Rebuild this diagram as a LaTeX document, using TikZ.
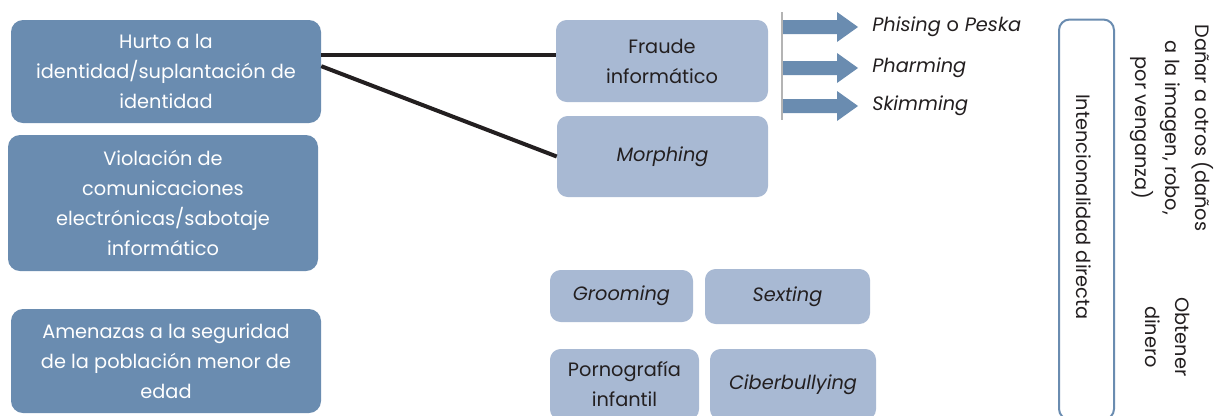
\documentclass[tikz,border=0pt]{standalone}
\usepackage{fontspec}
\setmainfont{Poppins}
\definecolor{dkblue}{HTML}{6A8CB0}
\definecolor{ltblue}{HTML}{A8B9D3}
\definecolor{ink}{HTML}{231F20}
\definecolor{rule}{HTML}{B4B4B4}
\begin{document}
\begin{tikzpicture}[x=0.75pt,y=-0.75pt,
  txt/.style={font=\fontsize{14.5pt}{22.5pt}\selectfont, align=center, inner sep=0pt},
  darkbox/.style={txt, fill=dkblue, text=white, rounded corners=9pt},
  lightbox/.style={txt, fill=ltblue, text=ink, rounded corners=8pt},
  conn/.style={draw=ink, line width=3pt},
  blockarrow/.style={fill=dkblue},
  lbl/.style={txt, text=ink, anchor=west, font=\fontsize{14.5pt}{22.5pt}\selectfont\itshape}
]
\clip (0,0) rectangle (1220,415);
\fill[white] (0,0) rectangle (1220,415);

% left dark boxes
\node[darkbox, minimum width=232.5pt, minimum height=77.25pt] (hurto) at (166,71.5)
  {Hurto a la\\identidad/suplantación de\\identidad};
\node[darkbox, minimum width=232.5pt, minimum height=102pt] (viol) at (163,203)
  {Violación de\\comunicaciones\\electrónicas/sabotaje\\informático};
\node[darkbox, minimum width=232.5pt, minimum height=78pt] (amen) at (166,361)
  {Amenazas a la seguridad\\de la población menor de\\edad};

% middle light boxes
\node[lightbox, minimum width=159pt, minimum height=61.5pt] (fraude) at (662,61)
  {Fraude\\informático};
\node[lightbox, minimum width=158.25pt, minimum height=60.75pt] (morph) at (662.5,156.5)
  {\itshape Morphing};
\node[lightbox, minimum width=107.25pt, minimum height=39pt] (groom) at (621.5,296)
  {\itshape Grooming};
\node[lightbox, minimum width=123.75pt, minimum height=41.25pt] (sext) at (787.5,296.5)
  {\itshape Sexting};
\node[lightbox, minimum width=111.75pt, minimum height=53.25pt] (porno) at (624.5,384.5)
  {Pornografía\\infantil};
\node[lightbox, minimum width=124.5pt, minimum height=53.25pt] (ciber) at (793,384.5)
  {\itshape Ciberbullying};

% connectors
\draw[conn] ([yshift=12.4pt]hurto.east) -- ([yshift=12.4pt]hurto.east -| fraude.west);
\draw[conn] ([yshift=4pt]hurto.east) -- (morph.west);

% vertical rule and block arrows
\coordinate (rtop) at (782,12);
\coordinate (rbot) at (782,120);
\draw[rule, line width=0.9pt] (rtop) -- (rbot);

\node[lbl] (phis) at (872,27) {Phising {\upshape o} Peska};
\node[lbl] (phar) at (872,68) {Pharming};
\node[lbl] (skim) at (872,106) {Skimming};

\foreach \yc in {27,68,106}{
  \fill[blockarrow] (783,\yc-7) -- (837,\yc-7) -- (837,\yc-15) -- (858,\yc)
     -- (837,\yc+15) -- (837,\yc+7) -- (783,\yc+7) -- cycle;
}

% right outline box
\node[draw=dkblue, line width=1.5pt, fill=white, rounded corners=8pt,
      minimum width=41.25pt, minimum height=300pt, inner sep=0pt] (intbox) at (1086.5,219.5) {};
\node[txt, text=ink, rotate=-90] (intlbl) at (1084,207) {Intencionalidad directa};

\node[txt, text=ink, rotate=-90] (danar) at (1172,128)
  {Dañar a otros (daños\\a la imagen, robo,\\por venganza)};
\node[txt, text=ink, rotate=-90] (obten) at (1168,337)
  {Obtener\\dinero};
\end{tikzpicture}
\end{document}
